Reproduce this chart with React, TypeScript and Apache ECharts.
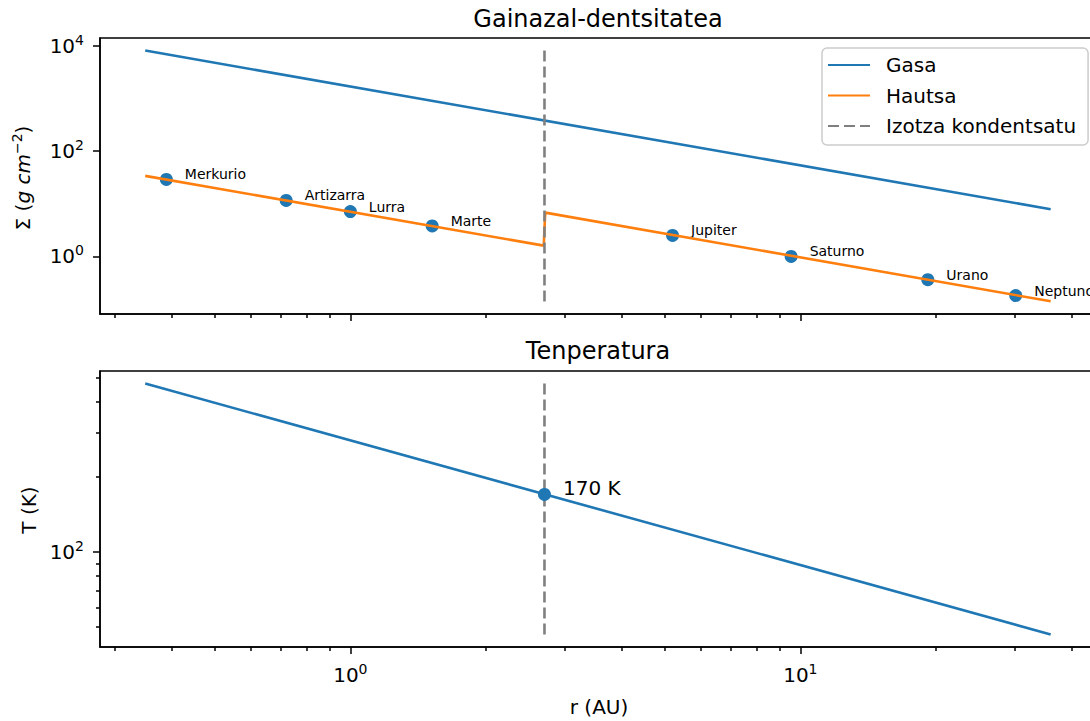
import React, { useEffect, useRef } from 'react';
import * as echarts from 'echarts';

const FONT = 'DejaVu Sans';

// ---- data ----
const planetNames = ['Merkurio', 'Artizarra', 'Lurra', 'Marte', 'Jupiter', 'Saturno', 'Urano', 'Neptuno'];
const planetR = [0.39, 0.72, 1.0, 1.52, 5.2, 9.54, 19.2, 30.1];
const planetSigma = [29, 11.6, 7.1, 3.8, 2.5, 1.0, 0.36, 0.18];

const gasR = [0.35, 36];
const gasSigma = [8200, 7.9];

const dustR = [0.35, 2.69, 2.71, 36];
const dustSigma = [34, 1.6, 6.8, 0.14];

const iceR = 2.7;
const iceSigmaRange = [0.139, 8200];
const iceTRange = [46.7, 473];
const iceT = 170;

const tempR = [0.35, 36];
const tempK = [473, 46.7];

const xMajorTicks = [1, 10];
const xMinorTicks = [0.3, 0.4, 0.5, 0.6, 0.7, 0.8, 0.9, 2, 3, 4, 5, 6, 7, 8, 9, 20, 30, 40];
const sigmaMajorTicks = [1, 100, 10000];
const tMajorTicks = [100];
const tMinorTicks = [50, 60, 70, 80, 90, 200, 300, 400, 500];

const legendNames = ['Gasa', 'Hautsa', 'Izotza kondentsatu'];

// axis extents (matplotlib 5% log margins)
const X_MIN = 0.2777;
const X_MAX = 45.4;
const SIG_MIN = 0.0802;
const SIG_MAX = 14220;
const T_MIN = 41.6;
const T_MAX = 531;

const BLUE = '#1f77b4';
const ORANGE = '#ff7f0e';
const GRAY = '#808080';

const richTick = {
  b: { fontSize: 20, lineHeight: 26, fontFamily: FONT, color: '#000', verticalAlign: 'middle' },
  s: { fontSize: 14, lineHeight: 14, fontFamily: FONT, color: '#000', verticalAlign: 'top' },
};
const powFmt = (v: number) => `{b|10}{s|${Math.round(Math.log10(v))}}`;

function makeAxis(gridIndex: number, min: number, max: number, ticks: number[], opts: any) {
  return {
    type: 'log',
    logBase: 10,
    gridIndex,
    min,
    max,
    position: opts.position,
    axisLine: { show: !!opts.line, lineStyle: { color: '#000', width: 1.5 } },
    axisTick: {
      show: true,
      length: opts.tickLen,
      customValues: ticks,
      lineStyle: { color: '#000', width: 1.5 },
    },
    axisLabel: {
      show: !!opts.labels,
      customValues: ticks,
      formatter: powFmt,
      rich: richTick,
      margin: opts.margin || 8,
      color: '#000',
    },
    splitLine: { show: false },
    minorTick: { show: false },
    minorSplitLine: { show: false },
  };
}

const G0 = { left: 100, top: 38, width: 996, height: 276 };
const G1 = { left: 100, top: 371, width: 996, height: 276 };

const option: any = {
  animation: false,
  backgroundColor: '#fff',
  textStyle: { fontFamily: FONT },
  grid: [
    { ...G0, show: true, borderColor: '#000', borderWidth: 1.5, backgroundColor: 'transparent' },
    { ...G1, show: true, borderColor: '#000', borderWidth: 1.5, backgroundColor: 'transparent' },
  ],
  xAxis: [
    makeAxis(0, X_MIN, X_MAX, xMajorTicks, { position: 'bottom', line: true, tickLen: 7, labels: false }),
    makeAxis(0, X_MIN, X_MAX, xMinorTicks, { position: 'bottom', line: false, tickLen: 4, labels: false }),
    makeAxis(1, X_MIN, X_MAX, xMajorTicks, { position: 'bottom', line: true, tickLen: 7, labels: true, margin: 15 }),
    makeAxis(1, X_MIN, X_MAX, xMinorTicks, { position: 'bottom', line: false, tickLen: 4, labels: false }),
  ],
  yAxis: [
    makeAxis(0, SIG_MIN, SIG_MAX, sigmaMajorTicks, { position: 'left', line: true, tickLen: 7, labels: true, margin: 16 }),
    makeAxis(1, T_MIN, T_MAX, tMajorTicks, { position: 'left', line: true, tickLen: 7, labels: true, margin: 16 }),
    makeAxis(1, T_MIN, T_MAX, tMinorTicks, { position: 'left', line: false, tickLen: 4, labels: false }),
  ],
  legend: {
    left: 822,
    top: 48,
    orient: 'vertical',
    data: legendNames,
    itemWidth: 42,
    itemHeight: 14,
    itemGap: 10.5,
    padding: [7, 12, 9, 5],
    backgroundColor: 'rgba(255,255,255,0.8)',
    borderColor: '#cccccc',
    borderWidth: 1.5,
    borderRadius: 5,
    selectedMode: false,
    itemStyle: { opacity: 0 },
    textStyle: { fontFamily: FONT, fontSize: 20, color: '#000', padding: [0, 0, 0, 11] },
  },
  graphic: [
    {
      type: 'text',
      x: 598,
      y: 19,
      style: { text: 'Gainazal-dentsitatea', fontFamily: FONT, fontSize: 24, fill: '#000', align: 'center', verticalAlign: 'middle' },
    },
    {
      type: 'text',
      x: 598,
      y: 351,
      style: { text: 'Tenperatura', fontFamily: FONT, fontSize: 24, fill: '#000', align: 'center', verticalAlign: 'middle' },
    },
    {
      type: 'text',
      x: 599,
      y: 707,
      style: { text: 'r (AU)', fontFamily: FONT, fontSize: 20, fill: '#000', align: 'center', verticalAlign: 'middle' },
    },
    {
      type: 'text',
      x: 29,
      y: 510,
      rotation: Math.PI / 2,
      style: { text: 'T (K)', fontFamily: FONT, fontSize: 20, fill: '#000', align: 'center', verticalAlign: 'middle' },
    },
    {
      type: 'text',
      x: 23,
      y: 178,
      rotation: Math.PI / 2,
      style: {
        text: '{n|Σ (}{i|g cm}{s|−2}{n|)}',
        align: 'center',
        verticalAlign: 'middle',
        fill: '#000',
        rich: {
          n: { fontFamily: FONT, fontSize: 20, lineHeight: 26, fill: '#000', verticalAlign: 'middle' },
          i: { fontFamily: FONT, fontSize: 20, lineHeight: 26, fontStyle: 'italic', fill: '#000', verticalAlign: 'middle' },
          s: { fontFamily: FONT, fontSize: 14, lineHeight: 14, fill: '#000', verticalAlign: 'top' },
        },
      },
    },
  ],
  series: [
    {
      name: 'planets',
      type: 'scatter',
      xAxisIndex: 0,
      yAxisIndex: 0,
      symbolSize: 13,
      itemStyle: { color: BLUE, opacity: 1 },
      data: planetR.map((r, i) => ({ name: planetNames[i], value: [r, planetSigma[i]] })),
      label: {
        show: true,
        formatter: '{b}',
        position: 'right',
        distance: 12,
        offset: [0, -5],
        fontFamily: FONT,
        fontSize: 14,
        color: '#000',
      },
      z: 1,
    },
    {
      name: 'Gasa',
      type: 'line',
      xAxisIndex: 0,
      yAxisIndex: 0,
      symbol: 'none',
      showSymbol: false,
      lineStyle: { color: BLUE, width: 2.6 },
      itemStyle: { color: BLUE },
      data: gasR.map((r, i) => [r, gasSigma[i]]),
      z: 2,
    },
    {
      name: 'Hautsa',
      type: 'line',
      xAxisIndex: 0,
      yAxisIndex: 0,
      symbol: 'none',
      showSymbol: false,
      lineStyle: { color: ORANGE, width: 2.6 },
      itemStyle: { color: ORANGE },
      data: dustR.map((r, i) => [r, dustSigma[i]]),
      z: 2,
    },
    {
      name: 'Izotza kondentsatu',
      type: 'line',
      xAxisIndex: 0,
      yAxisIndex: 0,
      symbol: 'none',
      showSymbol: false,
      lineStyle: { color: GRAY, width: 2.6, type: [11, 5] },
      itemStyle: { color: GRAY },
      data: iceSigmaRange.map((s) => [iceR, s]),
      z: 3,
    },
    {
      name: 'temp',
      type: 'line',
      xAxisIndex: 2,
      yAxisIndex: 1,
      symbol: 'none',
      showSymbol: false,
      lineStyle: { color: BLUE, width: 2.6 },
      data: tempR.map((r, i) => [r, tempK[i]]),
      z: 2,
    },
    {
      name: 'iceT',
      type: 'line',
      xAxisIndex: 2,
      yAxisIndex: 1,
      symbol: 'none',
      showSymbol: false,
      lineStyle: { color: GRAY, width: 2.6, type: [11, 5] },
      data: iceTRange.map((t) => [iceR, t]),
      z: 3,
    },
    {
      name: 'icePoint',
      type: 'scatter',
      xAxisIndex: 2,
      yAxisIndex: 1,
      symbolSize: 13,
      itemStyle: { color: BLUE, opacity: 1 },
      data: [{ name: `${iceT} K`, value: [iceR, iceT] }],
      label: {
        show: true,
        formatter: '{b}',
        position: 'right',
        distance: 12,
        offset: [0, -6],
        fontFamily: FONT,
        fontSize: 20,
        color: '#000',
      },
      z: 4,
    },
  ],
};

export default function App() {
  const ref = useRef<HTMLDivElement>(null);
  useEffect(() => {
    const chart = echarts.init(ref.current!, null, { renderer: 'svg' });
    chart.setOption(option);
    return () => chart.dispose();
  }, []);
  return (
    <div
      ref={ref}
      style={{ position: 'fixed', left: 0, top: 0, width: 1100, height: 721, background: '#fff' }}
    />
  );
}
